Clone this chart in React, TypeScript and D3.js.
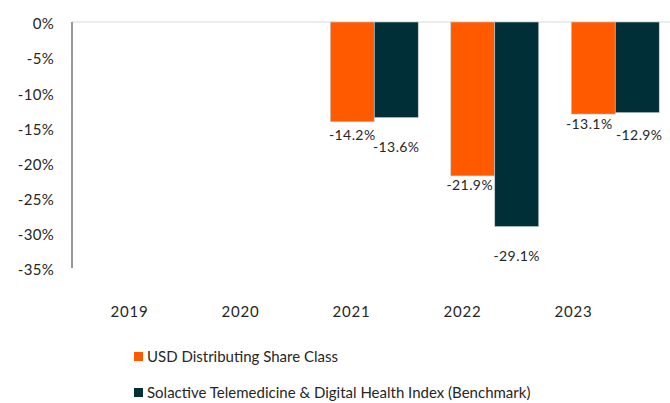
import React from "react";
import * as d3 from "d3";

const years = ["2019", "2020", "2021", "2022", "2023"];
const seriesNames = [
  "USD Distributing Share Class",
  "Solactive Telemedicine & Digital Health Index (Benchmark)",
];
const shareClass: (number | null)[] = [null, null, -14.2, -21.9, -13.1];
const benchmark: (number | null)[] = [null, null, -13.6, -29.1, -12.9];
const yTicks = [0, -5, -10, -15, -20, -25, -30, -35];
const colors = ["#FF5A00", "#002F37"];

// label placement offsets (layout only)
const labelDy = [
  [0, 0, 13, 9, 10],
  [0, 0, 30, 30, 22],
];
const labelDx = [
  [0, 0, 0, -3, -4],
  [0, 0, 0, 0, 2],
];

const W = 670;
const H = 403;

export default function App() {
  const y = d3.scaleLinear().domain([0, -35]).range([22, 268]);
  const xBar = d3.scaleBand<string>().domain(years).range([73, 675.5]).paddingInner(0.27).paddingOuter(0.135);
  const xSub = d3.scaleBand<string>().domain(["0", "1"]).range([0, xBar.bandwidth()]);
  const xLab = d3.scaleBand<string>().domain(years).range([74, 629]);
  const series = [shareClass, benchmark];
  const font = "Lato, 'Noto Sans', sans-serif";

  return (
    <svg width={W} height={H} style={{ position: "absolute", left: 0, top: 0, background: "#fff" }} fontFamily={font}>
      <line x1={72} x2={670} y1={y(0)} y2={y(0)} stroke="#d9d9d9" strokeWidth={1.2} />
      <line x1={72} x2={72} y1={y(0)} y2={y(-35)} stroke="#999" strokeWidth={2} />
      {yTicks.map((t) => (
        <text key={t} x={54} y={y(t) + 2} dy="0.35em" textAnchor="end" fontSize={15} fill="#262626" letterSpacing={0.3}>
          {t}%
        </text>
      ))}
      {series.map((s, si) =>
        s.map((v, i) =>
          v == null ? null : (
            <rect
              key={`${si}-${i}`}
              x={(xBar(years[i]) as number) + (xSub(String(si)) as number)}
              y={y(0)}
              width={xSub.bandwidth()}
              height={y(v) - y(0)}
              fill={colors[si]}
              stroke="#c8cfd0"
              strokeWidth={0.6}
            />
          )
        )
      )}
      {series.map((s, si) =>
        s.map((v, i) =>
          v == null ? null : (
            <text
              key={`l${si}-${i}`}
              x={(xBar(years[i]) as number) + (xSub(String(si)) as number) + xSub.bandwidth() / 2 + labelDx[si][i]}
              y={y(v) + labelDy[si][i]}
              dy="0.35em"
              textAnchor="middle"
              fontSize={14}
              fill="#262626"
              letterSpacing={0.4}
            >
              {v.toFixed(1)}%
            </text>
          )
        )
      )}
      {years.map((yr) => (
        <text key={yr} x={(xLab(yr) as number) + xLab.bandwidth() / 2} y={312} dy="0.35em" textAnchor="middle" fontSize={15} fill="#262626" letterSpacing={0.8}>
          {yr}
        </text>
      ))}
      {seriesNames.map((n, i) => (
        <g key={n} transform={`translate(134, ${352 + i * 36})`}>
          <rect x={0} y={0} width={9} height={9} fill={colors[i]} />
          <text x={13} y={4.5} dy="0.35em" fontSize={15} fill="#262626">
            {n}
          </text>
        </g>
      ))}
    </svg>
  );
}
